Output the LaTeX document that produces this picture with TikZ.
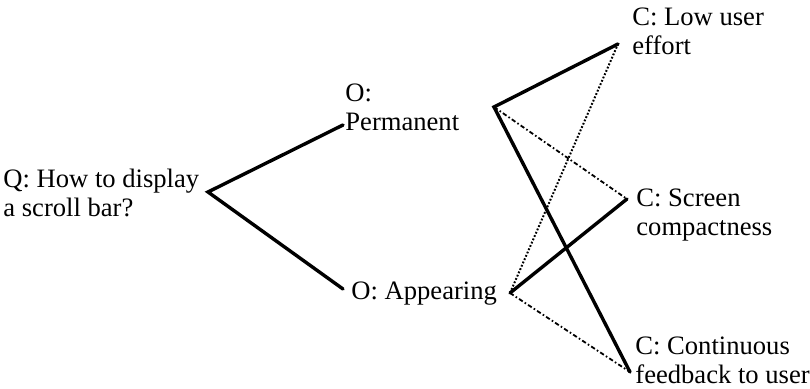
\documentclass[tikz,border=0pt]{standalone}
\usepackage{fontspec}
\setmainfont{Liberation Serif}
\usetikzlibrary{positioning}

\begin{document}
\begin{tikzpicture}[
  x=0.5pt, y=-0.5pt,
  lbl/.style={align=left, anchor=west, inner sep=0pt, font=\fontsize{13.3}{14.5}\selectfont},
  solidlink/.style={line width=1.7pt, line cap=round},
  dashdotlink/.style={line width=0.9pt, dash pattern=on 2.2pt off 1.2pt on 0.8pt off 1.2pt},
  dotlink/.style={line width=1pt, dash pattern=on 0.9pt off 0.9pt}]
\useasboundingbox (0,0) rectangle (810,389);
% junction points
\coordinate (qR) at (208,192);
\coordinate (permL) at (343,125);
\coordinate (permR) at (494,107);
\coordinate (apprL) at (343,289);
\coordinate (apprR) at (510,293);
\coordinate (effL) at (618,44);
\coordinate (compL) at (627,199);
\coordinate (feedL) at (630,372);
% texts
\node[lbl] (q) at (3,193) {Q: How to display\\a scroll bar?};
\node[lbl] (perm) at (345,107) {O:\\Permanent};
\node[lbl] (appr) at (351,294) {O: Appearing};
\node[lbl] (effort) at (632,31) {C: Low user\\effort};
\node[lbl] (compact) at (636,215) {C: Screen\\compactness};
\node[lbl] (feedback) at (635,360) {C: Continuous\\feedback to user};
% question to options
\draw[solidlink] (permL) -- (qR) -- (apprL);
% options to criteria
\draw[solidlink] (effL) -- (permR) -- (feedL);
\draw[dashdotlink] (permR) -- (compL);
\draw[dotlink] (apprR) -- (effL);
\draw[solidlink] (apprR) -- (compL);
\draw[dashdotlink] (apprR) -- (feedL);
\end{tikzpicture}
\end{document}
